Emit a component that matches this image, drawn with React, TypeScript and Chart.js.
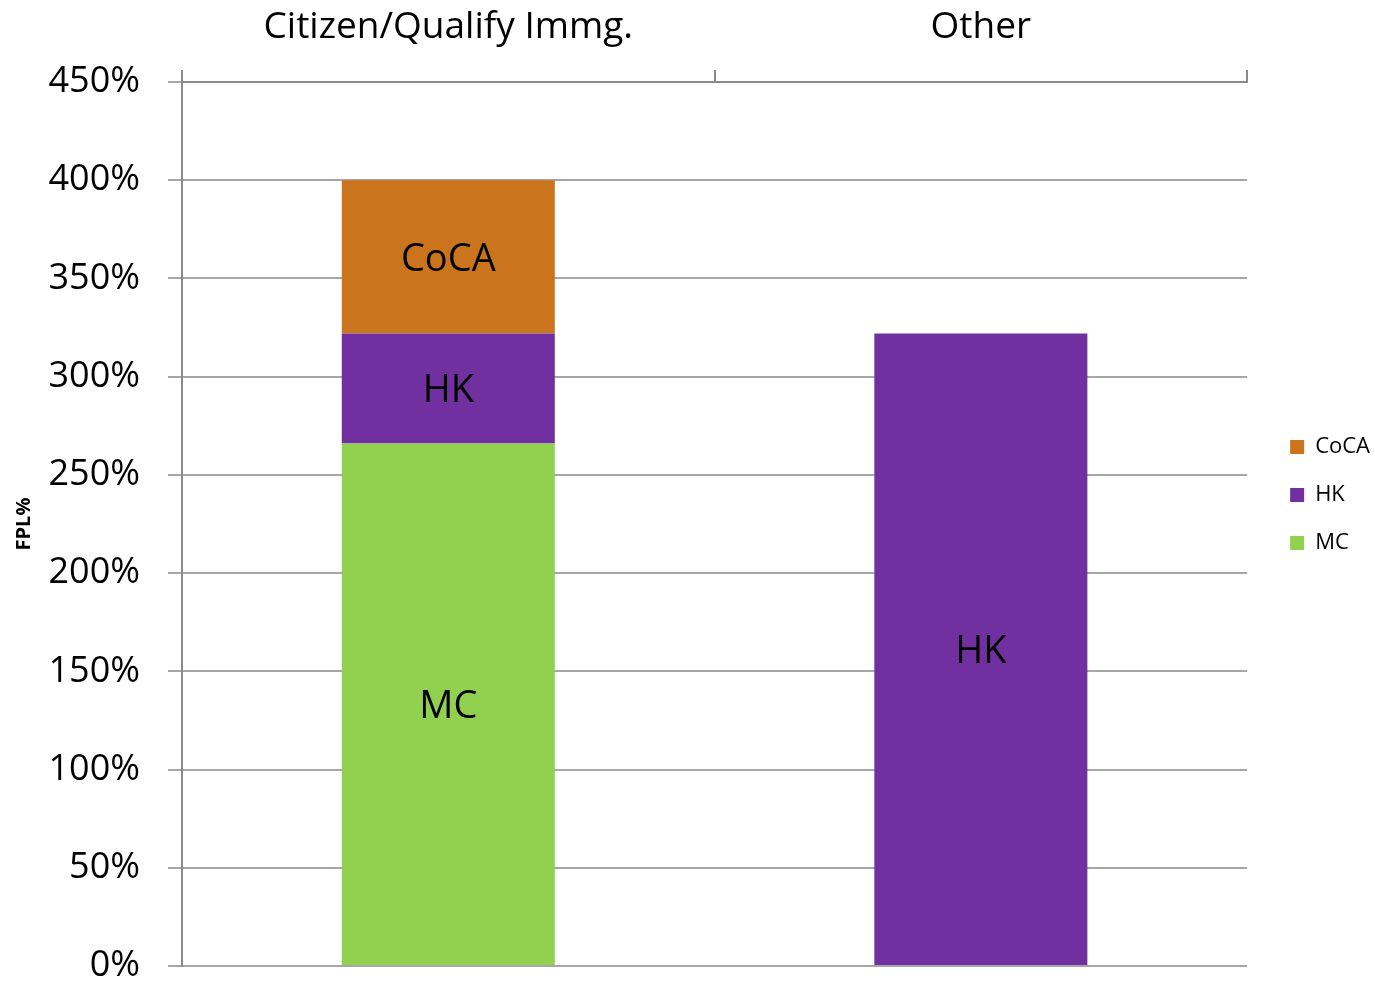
import React, { useEffect, useRef } from 'react';
import { Chart, registerables } from 'chart.js';

Chart.register(...registerables);

const categories = ['Citizen/Qualify Immg.', 'Other'];
const mcValues = [266, null];
const hkValues = [56, 322];
const cocaValues = [78, null];
const seriesColors = { MC: '#92D050', HK: '#7030A0', CoCA: '#CA741E' };
const yMin = 0;
const yMax = 450;
const yStep = 50;
const yTitle = 'FPL%';

const FONT = "'Open Sans', 'Noto Sans', sans-serif";

const barLabelPlugin = {
  id: 'barLabels',
  afterDatasetsDraw(chart: any) {
    const ctx = chart.ctx;
    ctx.save();
    ctx.font = `38px ${FONT}`;
    ctx.fillStyle = '#000';
    ctx.textAlign = 'center';
    ctx.textBaseline = 'middle';
    chart.data.datasets.forEach((ds: any, di: number) => {
      const meta = chart.getDatasetMeta(di);
      meta.data.forEach((el: any, i: number) => {
        const v = ds.data[i];
        if (v == null || v === 0) return;
        const p = el.getProps(['x', 'y', 'base'], true);
        ctx.fillText(ds.label, p.x, (p.y + p.base) / 2 + 3);
      });
    });
    ctx.restore();
  },
};

export default function App() {
  const ref = useRef<HTMLCanvasElement | null>(null);
  useEffect(() => {
    if (!ref.current) return;
    const chart = new Chart(ref.current, {
      type: 'bar',
      data: {
        labels: categories,
        datasets: [
          { label: 'MC', data: mcValues, backgroundColor: seriesColors.MC },
          { label: 'HK', data: hkValues, backgroundColor: seriesColors.HK },
          { label: 'CoCA', data: cocaValues, backgroundColor: seriesColors.CoCA },
        ],
      },
      options: {
        animation: false,
        responsive: true,
        maintainAspectRatio: false,
        datasets: { bar: { barPercentage: 0.4, categoryPercentage: 1 } },
        layout: { padding: { left: 0, top: 0, right: -5, bottom: 17 } },
        plugins: {
          tooltip: { enabled: false },
          legend: {
            position: 'right',
            reverse: true,
            title: { display: true, text: '', font: { size: 20 }, padding: 0 },
            labels: {
              boxWidth: 14,
              boxHeight: 14,
              padding: 26,
              color: '#000',
              font: { family: FONT, size: 22 },
            },
          },
        },
        scales: {
          x: {
            position: 'top',
            stacked: true,
            grid: {
              offset: true,
              drawOnChartArea: false,
              drawTicks: true,
              tickLength: 12,
              color: '#8a8a8a',
              lineWidth: 2,
            },
            border: { display: true, color: '#8a8a8a', width: 2 },
            ticks: { color: '#000', font: { family: FONT, size: 37 }, padding: 20 },
            afterFit: (s: any) => { s.height = 82; s.paddingLeft = 0; s.paddingRight = 0; },
          },
          y: {
            stacked: true,
            min: yMin,
            max: yMax,
            ticks: {
              stepSize: yStep,
              color: '#000',
              font: { family: FONT, size: 36 },
              padding: 28,
              callback: (v: any) => `${v}%`,
            },
            grid: { color: '#a6a6a6', lineWidth: 2, tickLength: 14 },
            border: { color: '#8a8a8a', width: 2 },
            title: {
              display: true,
              text: yTitle,
              color: '#000',
              font: { family: FONT, size: 20, weight: 'bold' },
              padding: { top: 12, bottom: 0 },
            },
            afterFit: (s: any) => { s.width = 182; s.paddingTop = 0; s.paddingBottom = 0; },
          },
          y2: {
            position: 'right',
            display: true,
            min: 0,
            max: 1,
            grid: { display: false, drawOnChartArea: false },
            border: { display: false },
            ticks: { display: false },
            afterFit: (s: any) => { s.width = 17; s.paddingTop = 0; s.paddingBottom = 0; },
          },
        },
      } as any,
      plugins: [barLabelPlugin],
    });
    return () => chart.destroy();
  }, []);
  return (
    <div style={{ position: 'absolute', left: 0, top: 0, width: 1375, height: 983, background: '#fff' }}>
      <canvas ref={ref} />
    </div>
  );
}
